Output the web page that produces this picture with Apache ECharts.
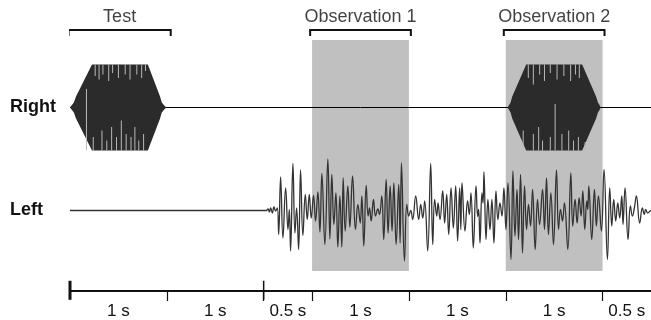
<!DOCTYPE html>
<html>
<head>
<meta charset="utf-8">
<script src="https://cdn.jsdelivr.net/npm/echarts@6/dist/echarts.min.js"></script>
<style>
html, body { margin: 0; padding: 0; background: #fff; }
#chart { width: 651px; height: 320px; }
</style>
</head>
<body>
<div id="chart"></div>
<script>
// time in seconds, amplitude in arbitrary units
var tickValues = [0, 1, 2, 2.5, 3.5, 4.5, 5.5, 6];
var tickLabels = ['1 s', '1 s', '0.5 s', '1 s', '1 s', '1 s', '0.5 s'];

var bracketNames = ['Test', 'Observation 1', 'Observation 2'];
var bracketStart = [-0.015, 2.48, 4.48];
var bracketEnd = [1.04, 3.52, 5.52];

// shaded observation windows
var obsStart = [2.5, 4.5];
var obsEnd = [3.5, 5.5];

// tone burst envelopes (right ear)
var burst1T = [0, 0.02, 0.04, 0.062, 0.227, 0.804, 0.928, 0.948, 0.969, 0.995];
var burst1A = [0, 0.05, 0.1, 0.22, 0.86, 0.86, 0.23, 0.1, 0.05, 0];
var burst2T = [4.519, 4.535, 4.55, 4.567, 4.711, 5.289, 5.433, 5.452, 5.468, 5.481];
var burst2A = [0, 0.05, 0.1, 0.22, 0.86, 0.86, 0.22, 0.1, 0.05, 0];

// light aliasing streaks inside the bursts (from top edge / from bottom edge)
var streakTopT = [0.26, 0.30, 0.34, 0.40, 0.44, 0.50, 0.57, 0.62, 0.69, 0.74, 0.78,
  4.733, 4.785, 4.85, 4.90, 4.96, 5.03, 5.10, 5.17, 5.22, 5.26];
var streakTopLen = [0.23, 0.3, 0.2, 0.33, 0.17, 0.27, 0.2, 0.3, 0.2, 0.27, 0.13,
  0.27, 0.4, 0.2, 0.33, 0.17, 0.3, 0.23, 0.33, 0.2, 0.27];
var streakBotT = [0.17, 0.24, 0.33, 0.38, 0.43, 0.48, 0.53, 0.58, 0.63, 0.67, 0.71, 0.76,
  4.68, 4.785, 4.84, 4.88, 4.96, 5.01, 5.08, 5.15, 5.2, 5.25, 5.32];
var streakBotLen = [1.23, 0.27, 0.4, 0.2, 0.47, 0.27, 0.6, 0.33, 0.27, 0.47, 0.2, 0.33,
  0.4, 0.33, 0.47, 0.2, 0.27, 0.93, 0.33, 0.4, 0.2, 0.27, 0.17];

// noise waveform (left ear), peaks and troughs
var leftT = [0, 2.027, 2.045, 2.059, 2.072, 2.090, 2.106, 2.124, 2.141, 2.155, 2.175, 2.199, 2.227, 2.251, 2.265, 2.278,
  2.302, 2.323, 2.340, 2.361, 2.381, 2.405, 2.430, 2.450, 2.471, 2.491, 2.515, 2.536, 2.560, 2.581, 2.601, 2.632,
  2.663, 2.684, 2.704, 2.725, 2.746, 2.766, 2.787, 2.807, 2.821, 2.842, 2.869, 2.890, 2.918,
  2.948, 2.973, 2.997, 3.014, 3.034, 3.059, 3.079, 3.093, 3.110, 3.134, 3.155, 3.179, 3.196, 3.220, 3.240, 3.265,
  3.285, 3.306, 3.326, 3.344, 3.368, 3.395, 3.409, 3.423, 3.454, 3.478, 3.498, 3.519, 3.539, 3.570, 3.601, 3.622,
  3.643, 3.663, 3.694, 3.725, 3.746, 3.766, 3.787, 3.801, 3.821, 3.849, 3.869, 3.890, 3.911,
  3.935, 3.959, 3.983, 4.003, 4.024, 4.036, 4.048, 4.079, 4.106, 4.124, 4.141, 4.165, 4.193, 4.210, 4.220, 4.234,
  4.254, 4.265, 4.275, 4.296, 4.316, 4.337, 4.357, 4.378, 4.399, 4.419, 4.440, 4.461, 4.481, 4.502, 4.523, 4.554,
  4.574, 4.595, 4.616, 4.632, 4.653, 4.673, 4.694, 4.715, 4.735, 4.756, 4.777, 4.804, 4.828, 4.849,
  4.880, 4.900, 4.921, 4.941, 4.966, 4.993, 5.024, 5.045, 5.065, 5.086, 5.106, 5.141, 5.172, 5.192, 5.216, 5.237,
  5.258, 5.278, 5.296, 5.316, 5.337, 5.347, 5.358, 5.388, 5.416, 5.436, 5.457, 5.488, 5.515, 5.550, 5.574, 5.595,
  5.615, 5.636, 5.657, 5.677, 5.698, 5.711, 5.732, 5.763, 5.787, 5.808, 5.828, 5.849, 5.883, 5.911, 5.931, 5.945,
  5.966, 5.990, 6.0];
var leftV = [0, 0, 0.03, -0.03, 0.05, -0.05, 0.07, -0.01, 0.05, -0.48, 0.67, -0.55, 0.45, -0.38, 0.02, -0.81,
  0.94, -0.45, 0.05, -0.78, 0.81, -0.5, 0.32, -0.18, 0.32, -0.15, 0.3, -0.21, 0.37, -0.43, 0.74, -0.68,
  1.03, -0.57, 0.72, -0.28, 0.35, -0.73, 0.29, -0.73, 0.65, -0.41, 0.49, -0.33, 0.69,
  -0.38, 0.12, -0.25, 0.29, -0.71, 0.5, -0.11, 0.05, -0.21, 0.22, -0.11, 0.03, -0.08, 0.29, -0.58, 0.62,
  -0.45, 0.49, -0.41, 0.55, -0.68, 0.52, -0.65, 0.95, -1.01, 0.12, -0.11, 0.0, -0.18, 0.29, -0.18, 0.12,
  -0.15, 0.19, -0.81, 0.94, -0.68, 0.22, -0.11, 0.15, -0.18, 0.39, -0.25, 0.32, -0.48,
  0.45, -0.35, 0.49, -0.61, 0.45, -0.38, 0.55, -0.41, 0.19, -0.08, 0.35, -0.75, 0.49, -0.12, 0.02, -0.65,
  0.35, 0.15, 0.77, -0.58, 0.22, -0.38, 0.22, -0.65, 0.39, -0.18, 0.15, -0.11, 0.45, -0.38, 0.55, -0.98,
  0.79, -0.51, 0.42, -0.58, 0.72, -0.85, 0.49, -0.38, 0.12, -0.31, 0.42, -0.78, 0.22, -0.28,
  0.42, -0.38, 0.65, -0.48, 0.35, -0.68, 0.81, -0.38, 0.02, -0.21, 0.15, -0.78, 0.75, -0.31, 0.22, -0.25,
  0.25, -0.11, 0.39, -0.38, 0.19, 0.02, 0.49, -0.58, 0.42, -0.31, 0.29, -0.41, 0.82, -0.98, 0.45, -0.31,
  0.22, -0.21, 0.15, -0.15, 0.29, -0.28, 0.45, -0.58, 0.09, -0.11, 0.05, 0.29, -0.25, 0.05, -0.08, 0.02,
  -0.05, -0.01, 0];

var FONT = '"Liberation Sans", Arial, sans-serif';
var INK = '#111';
var BURST_TOP = 0.86;

var bursts = [
  { t: burst1T, a: burst1A },
  { t: burst2T, a: burst2A }
];

var myChart = echarts.init(document.getElementById('chart'));

function hiddenX(i) {
  return { gridIndex: i, type: 'value', min: 0, max: 6, show: false };
}
function hiddenY(i, min, max, name) {
  return {
    gridIndex: i, type: 'value', min: min, max: max,
    axisLine: { show: false }, axisTick: { show: false },
    axisLabel: { show: false }, splitLine: { show: false },
    name: name || '', nameLocation: 'middle', nameRotate: 0, nameGap: 60,
    nameTextStyle: { fontFamily: FONT, fontWeight: 'bold', fontSize: 18, color: INK, align: 'left' }
  };
}

var mids = [];
for (var i = 0; i < tickValues.length - 1; i++) {
  mids.push((tickValues[i] + tickValues[i + 1]) / 2);
}

// streak segments: [t, fromAmp, toAmp]
var streaks = [];
streakTopT.forEach(function (t, i) { streaks.push([t, BURST_TOP, BURST_TOP - streakTopLen[i]]); });
streakBotT.forEach(function (t, i) { streaks.push([t, -BURST_TOP, -BURST_TOP + streakBotLen[i]]); });

var series = [];

// grey observation windows
series.push({
  type: 'custom', xAxisIndex: 0, yAxisIndex: 0, z: 1, silent: true,
  data: obsStart.map(function (s, i) { return [s, obsEnd[i]]; }),
  renderItem: function (params, api) {
    var p0 = api.coord([api.value(0), 1]);
    var p1 = api.coord([api.value(1), 0]);
    return { type: 'rect', shape: { x: p0[0], y: p0[1], width: p1[0] - p0[0], height: p1[1] - p0[1] },
      style: { fill: '#c0c0c0' } };
  }
});

// right channel baseline
series.push({
  type: 'line', xAxisIndex: 1, yAxisIndex: 1, z: 2, showSymbol: false, silent: true,
  data: [[0, 0], [6, 0]],
  lineStyle: { color: '#000', width: 1 }
});

// tone bursts
series.push({
  type: 'custom', xAxisIndex: 1, yAxisIndex: 1, z: 3, silent: true,
  data: bursts.map(function (b, i) { return [b.t[0], i]; }),
  encode: { x: 0 },
  renderItem: function (params, api) {
    var b = bursts[params.dataIndex];
    var pts = [];
    for (var k = 0; k < b.t.length; k++) pts.push(api.coord([b.t[k], b.a[k]]));
    for (var k = b.t.length - 1; k >= 0; k--) pts.push(api.coord([b.t[k], -b.a[k]]));
    return { type: 'polygon', shape: { points: pts }, style: { fill: '#2b2b2b' } };
  }
});

// aliasing streaks
series.push({
  type: 'custom', xAxisIndex: 1, yAxisIndex: 1, z: 4, silent: true,
  data: streaks,
  encode: { x: 0, y: [1, 2] },
  renderItem: function (params, api) {
    var a = api.coord([api.value(0), api.value(1)]);
    var b = api.coord([api.value(0), api.value(2)]);
    return { type: 'line', shape: { x1: a[0], y1: a[1], x2: b[0], y2: b[1] },
      style: { stroke: '#b8b8b8', lineWidth: 1 } };
  }
});

// left channel noise
series.push({
  type: 'line', xAxisIndex: 2, yAxisIndex: 2, z: 3, showSymbol: false, silent: true,
  smooth: 0.45,
  data: leftT.map(function (t, i) { return [t, leftV[i]]; }),
  lineStyle: { color: '#333', width: 1.3 }
});

// brackets above the traces
bracketNames.forEach(function (name, i) {
  series.push({
    type: 'line', xAxisIndex: 3, yAxisIndex: 3, z: 4, showSymbol: false, silent: true, clip: false,
    data: [[bracketStart[i], 0], [bracketStart[i], 1], [bracketEnd[i], 1], [bracketEnd[i], 0]],
    lineStyle: { color: INK, width: 2, cap: 'butt', join: 'miter' }
  });
});
series.push({
  type: 'scatter', xAxisIndex: 3, yAxisIndex: 3, symbolSize: 0, silent: true,
  data: bracketNames.map(function (n, i) { return [(bracketStart[i] + bracketEnd[i]) / 2, 1, n]; }),
  label: {
    show: true, position: 'top', distance: 4,
    formatter: function (p) { return p.value[2]; },
    fontFamily: FONT, fontSize: 18, color: INK
  }
});

// long ticks at 0 s and 2 s
[[0, 3], [2, 1.5]].forEach(function (tk) {
  series.push({
    type: 'line', xAxisIndex: 4, yAxisIndex: 4, z: 4, showSymbol: false, silent: true, clip: false,
    data: [[tk[0], 0.93], [tk[0], -0.8]],
    lineStyle: { color: INK, width: tk[1], cap: 'butt' }
  });
});

var option = {
  animation: false,
  backgroundColor: '#fff',
  grid: [
    { left: 70, right: 0, top: 40, height: 231 },     // shading
    { left: 70, right: 0, top: 57.5, height: 100 },   // right
    { left: 70, right: 0, top: 150.5, height: 120 },  // left
    { left: 70, right: 0, top: 30, height: 6 },       // brackets
    { left: 70, right: 0, top: 280, height: 28 }      // time line
  ],
  xAxis: [
    hiddenX(0), hiddenX(1), hiddenX(2), hiddenX(3),
    {
      gridIndex: 4, type: 'value', min: 0, max: 6,
      axisLine: { show: true, onZero: true, lineStyle: { color: INK, width: 2 } },
      axisTick: { show: true, customValues: tickValues.slice(1, -1), length: 10, lineStyle: { color: INK, width: 1.2 } },
      axisLabel: {
        show: true, customValues: mids, margin: 1,
        fontFamily: FONT, fontSize: 17, color: INK,
        formatter: function (v) {
          for (var j = 0; j < mids.length; j++) {
            if (Math.abs(mids[j] - v) < 1e-6) return tickLabels[j];
          }
          return '';
        }
      },
      splitLine: { show: false }
    }
  ],
  yAxis: [
    hiddenY(0, 0, 1),
    hiddenY(1, -1, 1, 'Right'),
    hiddenY(2, -1.2, 1.2, 'Left'),
    hiddenY(3, 0, 1),
    hiddenY(4, -1, 1)
  ],
  series: series
};

myChart.setOption(option, true);
</script>
</body>
</html>
